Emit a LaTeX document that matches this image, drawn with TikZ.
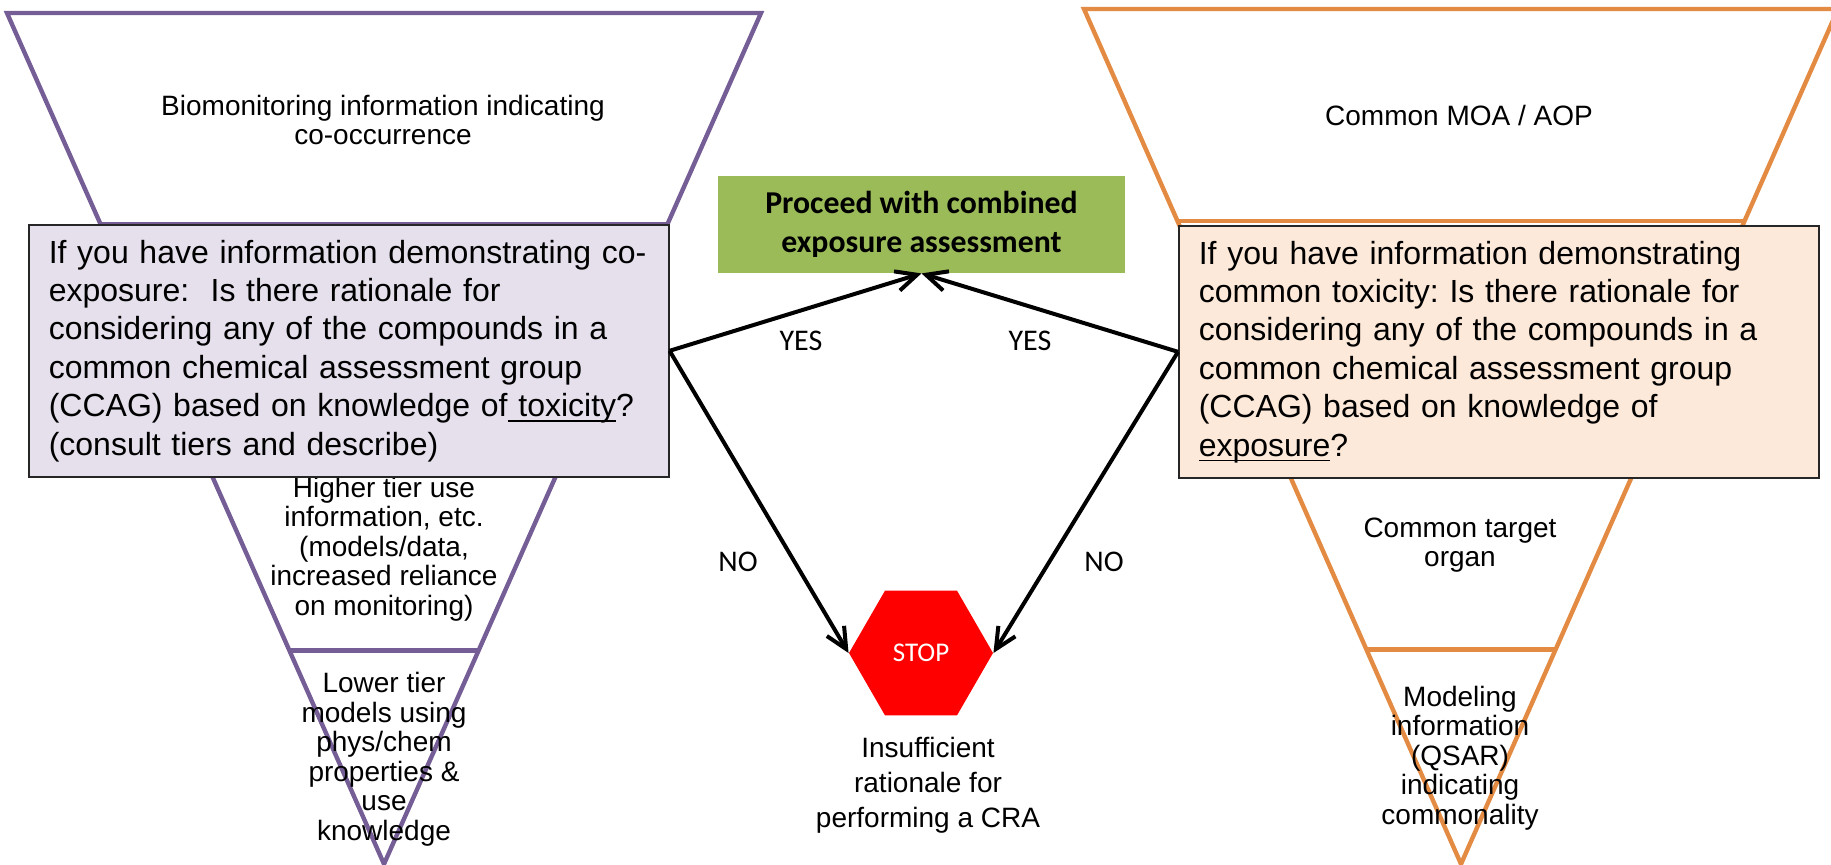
\documentclass[tikz,border=0pt]{standalone}
\usepackage{fontspec}
\setmainfont{Liberation Sans}
\newfontfamily\calib{Carlito}
\newcommand\lineunder[1]{\leavevmode\setbox0\hbox{#1}\rlap{\rule[-2.6pt]{\wd0}{0.8pt}}\box0}
\usetikzlibrary{arrows.meta}
\usetikzlibrary{shapes.geometric,calc}
\definecolor{lilac}{RGB}{117,93,150}
\definecolor{amber}{RGB}{227,139,66}
\definecolor{lilacfill}{RGB}{229,224,236}
\definecolor{amberfill}{RGB}{253,233,217}
\definecolor{leaf}{RGB}{155,187,89}
\tikzset{
funnel/.style={line width=2.2pt},
tier/.style={align=center, font=\fontsize{14pt}{14.75pt}\selectfont},
question/.style={draw=black!85, line width=0.8pt, anchor=north west, text width=300pt,
  align=left, inner xsep=10pt, minimum height=126pt, font=\fontsize{16pt}{19.2pt}\selectfont},
choice/.style={font=\calib\fontsize{15pt}{18pt}\selectfont},
flow/.style={line width=2pt, -{Straight Barb[length=10.5pt,width=10pt]}}
}

\begin{document}
\frenchspacing
\begin{tikzpicture}[x=0.5pt, y=-0.5pt]
\useasboundingbox (0,0) rectangle (1831,864);

\foreach \s/\x/\y/\c in {l/7/13/lilac, r/1084/9/amber} {
\coordinate (\s a) at (\x,\y);
\coordinate (\s b) at ({\x+754},\y);
\coordinate (\s c) at ({\x+377},864);
\draw[funnel, draw=\c] (\s a) -- (\s b) -- (\s c) -- cycle;
\draw[funnel, draw=\c] ($(\s a)!0.248!(\s c)$) -- ($(\s b)!0.248!(\s c)$);
\draw[funnel, draw=\c] ($(\s a)!0.749!(\s c)$) -- ($(\s b)!0.749!(\s c)$);
}

\node[tier] (bio) at (383,120) {Biomonitoring information indicating\\co-occurrence};
\node[tier] (higher) at (384,549) {Higher tier use\\information, etc.\\(models/data,\\increased reliance\\on monitoring)};
\node[tier] (lower) at (384,759) {Lower tier\\models using\\phys/chem\\properties \&\\use\\knowledge};
\node[tier] (moa) at (1459,115) {Common MOA / AOP};
\node[tier] (organ) at (1460,545) {Common target\\organ};
\node[tier] (qsar) at (1460,758) {Modeling\\information\\(QSAR)\\indicating\\commonality};

\node[question, fill=lilacfill] (lbox) at (28,224) {If you have information demonstrating co-\\
exposure:~ Is there rationale for\\
considering any of the compounds in a\\
common chemical assessment group\\
(CCAG) based on knowledge of\lineunder{\ toxicity}?\\
(consult tiers and describe)};
\node[question, fill=amberfill] (rbox) at (1178,225) {If you have information demonstrating\\
common toxicity: Is there rationale for\\
considering any of the compounds in a\\
common chemical assessment group\\
(CCAG) based on knowledge of\\
\lineunder{exposure}?};

\node[fill=leaf, minimum width=203.5pt, minimum height=48.5pt, align=center,
  font=\calib\bfseries\fontsize{15.9pt}{19.5pt}\selectfont] (go) at (921.5,224.5)
  {Proceed with combined\\exposure assessment};
\node[regular polygon, regular polygon sides=6, minimum size=72pt, inner sep=0pt,
  fill=red, text=white, font=\calib\fontsize{13.5pt}{16pt}\selectfont] (stop) at (921,653) {STOP};
\node[align=center, font=\fontsize{14pt}{17.5pt}\selectfont] (why) at (928,785)
  {Insufficient\\rationale for\\performing a CRA};

\draw[flow] (lbox.east) -- (go.south);
\draw[flow] (rbox.west) -- (go.south);
\draw[flow] (lbox.east) -- (stop.west);
\draw[flow] (rbox.west) -- (stop.east);

\node[choice] (yesl) at (801,341) {YES};
\node[choice] (yesr) at (1030,341) {YES};
\node[choice] (nol) at (738,562) {NO};
\node[choice] (nor) at (1104,562) {NO};
\end{tikzpicture}
\end{document}
